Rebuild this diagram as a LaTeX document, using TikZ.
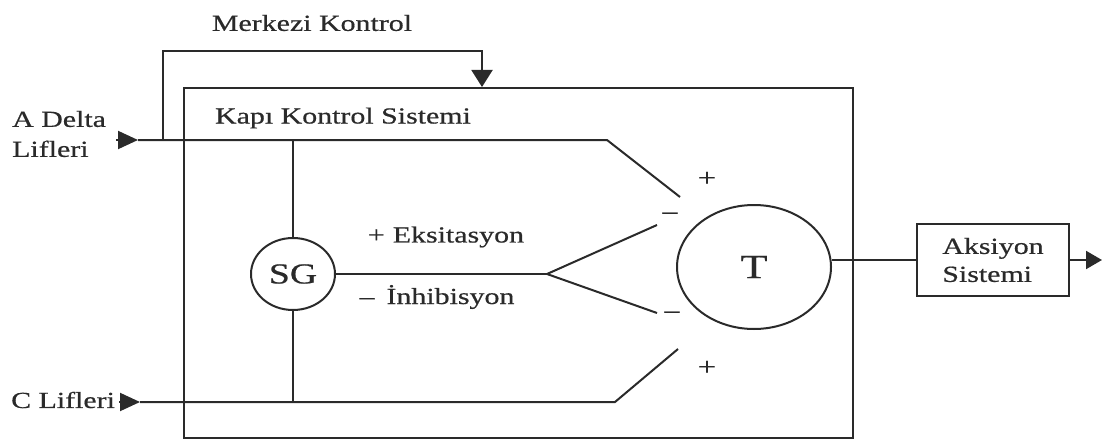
\documentclass[tikz,border=0pt]{standalone}
\usepackage{fontspec}
\setmainfont[FakeStretch=1.3,FakeBold=0.6]{Liberation Serif}
\usetikzlibrary{arrows.meta,shapes.geometric}
\definecolor{ink}{HTML}{2A2A2A}
\tikzset{
  ln/.style={line width=2pt, draw=ink},
  tipA/.style={-{Triangle[length=20pt,width=18pt]}},
  tipB/.style={-{Triangle[length=17pt,width=21pt]}},
  tipC/.style={-{Triangle[length=16pt,width=18pt]}},
  lbl/.style={inner sep=0pt, text=ink, font=\fontsize{23}{30}\selectfont},
  sgn/.style={inner sep=0pt, text=ink, font=\fontsize{25}{26}\selectfont},
}
\begin{document}
\begin{tikzpicture}[x=1pt,y=-1pt]
\useasboundingbox (0,0) rectangle (1103,444);
% main box
\node[ln, draw, rectangle, minimum width=669pt, minimum height=350pt, anchor=north west, inner sep=0pt] (gate) at (183,87) {};
% nodes
\node[ln, draw, ellipse, minimum width=84pt, minimum height=72pt, inner sep=0pt, text=ink, font=\fontsize{29}{30}\selectfont] (SG) at (293,274) {SG};
\node[ln, draw, ellipse, minimum width=154pt, minimum height=124pt, inner sep=0pt, text=ink, font=\fontsize{34}{36}\selectfont] (T) at (754,267) {T};
\node[ln, draw, rectangle, minimum width=152pt, minimum height=72pt, inner sep=0pt, align=left, text=ink, font=\fontsize{23}{28}\selectfont] (aks) at (993,260) {Aksiyon\\Sistemi};
% labels
\node[lbl] (mk) at (312,23) {Merkezi Kontrol};
\node[lbl] (kks) at (343,118) {Kapı Kontrol Sistemi};
\node[lbl, anchor=west, align=left] (ad) at (12,134) {A Delta\\Lifleri};
\node[lbl, anchor=west] (cl) at (11,400) {C Lifleri};
\node[lbl] (eks) at (446,237) {+\hspace{8pt}Eksitasyon};
\node[lbl] (inh) at (437,297) {–\hspace{12pt}İnhibisyon};
\node[sgn] (p1) at (707,179) {+};
\node[sgn] (m1) at (670,217) {−};
\node[sgn] (m2) at (672,316) {−};
\node[sgn] (p2) at (707,368) {+};
% coordinates
\coordinate (aIn) at (116,140);
\coordinate (aJ) at (138,140);
\coordinate (fbL) at (163,140);
\coordinate (fbA) at (163,51);
\coordinate (fbB) at (482,51);
\coordinate (aSG) at (293,140);
\coordinate (aBend) at (607,140);
\coordinate (aEnd) at (680,197);
\coordinate (cIn) at (119,402);
\coordinate (cJ) at (140,402);
\coordinate (cSG) at (293,402);
\coordinate (cBend) at (615,402);
\coordinate (cEnd) at (678,349);
\coordinate (fork) at (547,274);
\coordinate (fUp) at (657,225);
\coordinate (fDn) at (657,313);
\coordinate (out) at (1102,260);
% connectors
\draw[ln, tipA] (aIn) -- (aJ);
\draw[ln] (aJ) -- (aBend) -- (aEnd);
\draw[ln, tipB] (fbL) -- (fbA) -- (fbB) -- (fbB |- gate.north);
\draw[ln] (aSG) -- (SG.north);
\draw[ln] (SG.south) -- (cSG);
\draw[ln, tipA] (cIn) -- (cJ);
\draw[ln] (cJ) -- (cBend) -- (cEnd);
\draw[ln] (SG.east) -- (fork);
\draw[ln] (fork) -- (fUp);
\draw[ln] (fork) -- (fDn);
\draw[ln] (aks.west -| T.east) -- (aks.west);
\draw[ln, tipC] (aks.east) -- (out);
\end{tikzpicture}
\end{document}
